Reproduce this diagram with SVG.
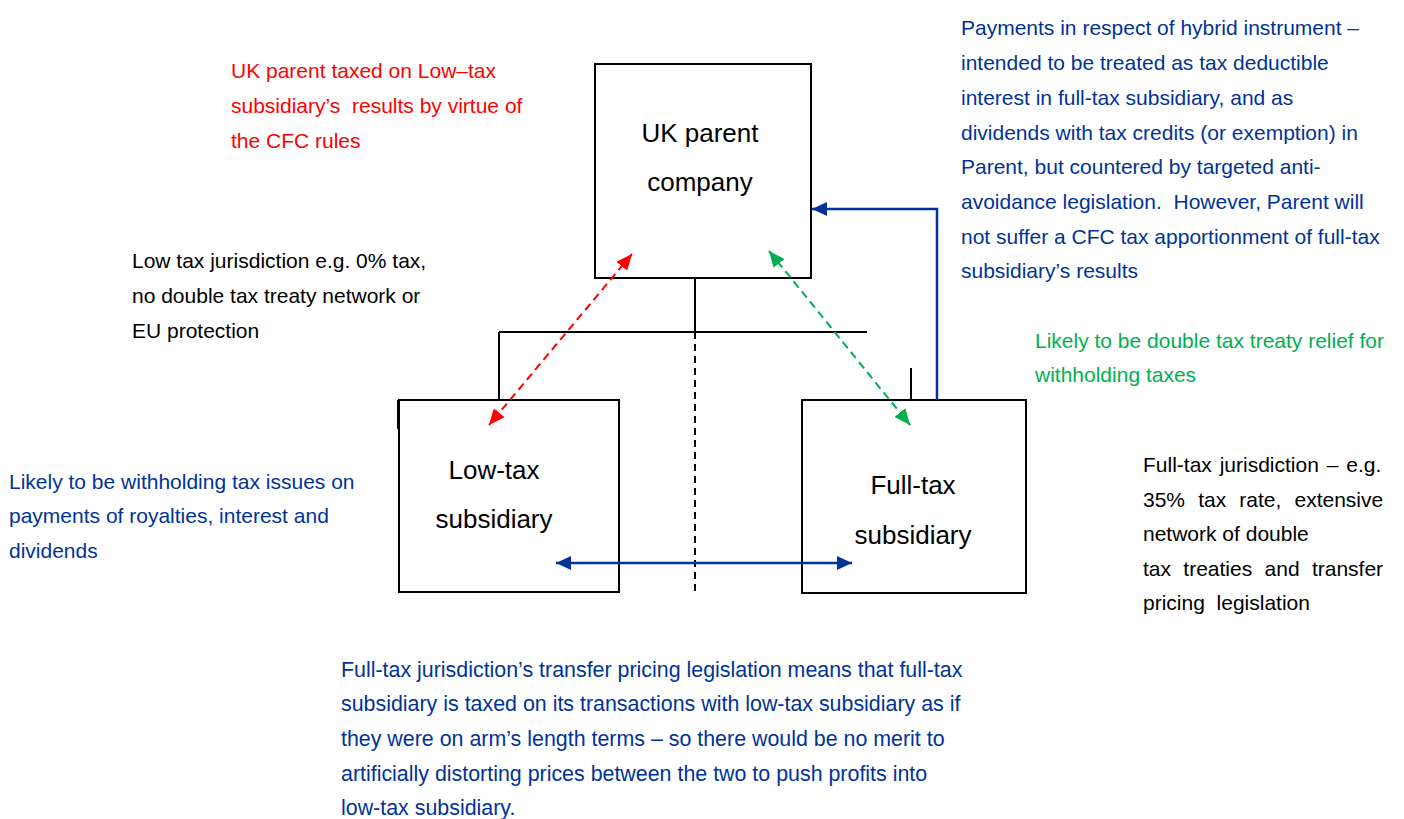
<svg xmlns="http://www.w3.org/2000/svg" width="1404" height="819" viewBox="0 0 1404 819">
<style>
text{font-family:"Liberation Sans",Arial,sans-serif;font-size:21px;white-space:pre}
.lbl{font-size:26px;fill:#000;text-anchor:middle}
.red{fill:#ff0000}.blk{fill:#000}.blu{fill:#003399}.grn{fill:#00b050}
.box{fill:#fff;stroke:#000;stroke-width:2}
.ln{fill:none;stroke:#000;stroke-width:2}
</style>
<defs>
<marker id="mr" markerUnits="userSpaceOnUse" markerWidth="17" markerHeight="14" refX="16" refY="7" orient="auto-start-reverse"><path d="M0,0 L16,7 L0,14 z" fill="#ff0000"/></marker>
<marker id="mg" markerUnits="userSpaceOnUse" markerWidth="17" markerHeight="14" refX="16" refY="7" orient="auto-start-reverse"><path d="M0,0 L16,7 L0,14 z" fill="#00b050"/></marker>
<marker id="mb" markerUnits="userSpaceOnUse" markerWidth="16" markerHeight="14" refX="15" refY="7" orient="auto-start-reverse"><path d="M0,0 L15,7 L0,14 z" fill="#003399"/></marker>
</defs>
<rect width="1404" height="819" fill="#fff"/>
<g id="parent">
<rect class="box" x="595" y="64" width="216" height="214"/>
<text class="lbl" x="700" y="142">UK parent</text>
<text class="lbl" x="700" y="191">company</text>
</g>
<g id="lowtax">
<rect class="box" x="399" y="400" width="220" height="192"/>
<line x1="398.5" y1="400" x2="398.5" y2="429" stroke="#000" stroke-width="3"/>
<text class="lbl" x="494" y="479">Low-tax</text>
<text class="lbl" x="494" y="528">subsidiary</text>
</g>
<g id="fulltax">
<rect class="box" x="802" y="400" width="224" height="193"/>
<text class="lbl" x="913" y="494">Full-tax</text>
<text class="lbl" x="913" y="544">subsidiary</text>
</g>
<g id="connectors">
<path class="ln" d="M695,278 V332 M499,332 H867 M499,332 V400"/>
<path class="ln" d="M911,368 V400"/>
<path d="M695,332 V592" fill="none" stroke="#000" stroke-width="2" stroke-dasharray="7,5"/>
<path d="M937,400 V209 H812" fill="none" stroke="#003399" stroke-width="2.5" marker-end="url(#mb)"/>
<line x1="632" y1="254" x2="489" y2="425" stroke="#ff0000" stroke-width="2" stroke-dasharray="8,5" marker-start="url(#mr)" marker-end="url(#mr)"/>
<line x1="769" y1="251" x2="910" y2="425" stroke="#00b050" stroke-width="2" stroke-dasharray="8,5" marker-start="url(#mg)" marker-end="url(#mg)"/>
<line x1="556" y1="563" x2="852" y2="563" stroke="#003399" stroke-width="2.5" marker-start="url(#mb)" marker-end="url(#mb)"/>
</g>
<g id="note-cfc">
<text class="red"><tspan x="231" y="78">UK parent taxed on Low–tax</tspan><tspan x="231" y="113">subsidiary’s  results by virtue of</tspan><tspan x="231" y="148">the CFC rules</tspan></text>
</g>
<g id="note-lowjur">
<text class="blk"><tspan x="132" y="268">Low tax jurisdiction e.g. 0% tax,</tspan><tspan x="132" y="303">no double tax treaty network or</tspan><tspan x="132" y="338">EU protection</tspan></text>
</g>
<g id="note-wht">
<text class="blu"><tspan x="9" y="489">Likely to be withholding tax issues on</tspan><tspan x="9" y="523">payments of royalties, interest and</tspan><tspan x="9" y="558">dividends</tspan></text>
</g>
<g id="note-hybrid">
<text class="blu"><tspan x="961" y="35">Payments in respect of hybrid instrument –</tspan><tspan x="961" y="70">intended to be treated as tax deductible</tspan><tspan x="961" y="105">interest in full-tax subsidiary, and as</tspan><tspan x="961" y="140">dividends with tax credits (or exemption) in</tspan><tspan x="961" y="174">Parent, but countered by targeted anti-</tspan><tspan x="961" y="209">avoidance legislation.  However, Parent will</tspan><tspan x="961" y="244">not suffer a CFC tax apportionment of full-tax</tspan><tspan x="961" y="278">subsidiary’s results</tspan></text>
</g>
<g id="note-dtt">
<text class="grn"><tspan x="1035" y="348">Likely to be double tax treaty relief for</tspan><tspan x="1035" y="382">withholding taxes</tspan></text>
</g>
<g id="note-fulljur">
<text class="blk"><tspan x="1143" y="472" word-spacing="2">Full-tax jurisdiction – e.g.</tspan><tspan x="1143" y="507" word-spacing="7.3">35% tax rate, extensive</tspan><tspan x="1143" y="541">network of double</tspan><tspan x="1143" y="576" word-spacing="6.5">tax treaties and transfer</tspan><tspan x="1143" y="610">pricing  legislation</tspan></text>
</g>
<g id="note-tp">
<text class="blu" style="font-size:21.4px"><tspan x="341" y="677">Full-tax jurisdiction’s transfer pricing legislation means that full-tax</tspan><tspan x="341" y="711">subsidiary is taxed on its transactions with low-tax subsidiary as if</tspan><tspan x="341" y="746">they were on arm’s length terms – so there would be no merit to</tspan><tspan x="341" y="781">artificially distorting prices between the two to push profits into</tspan><tspan x="341" y="815">low-tax subsidiary.</tspan></text>
</g>
</svg>
